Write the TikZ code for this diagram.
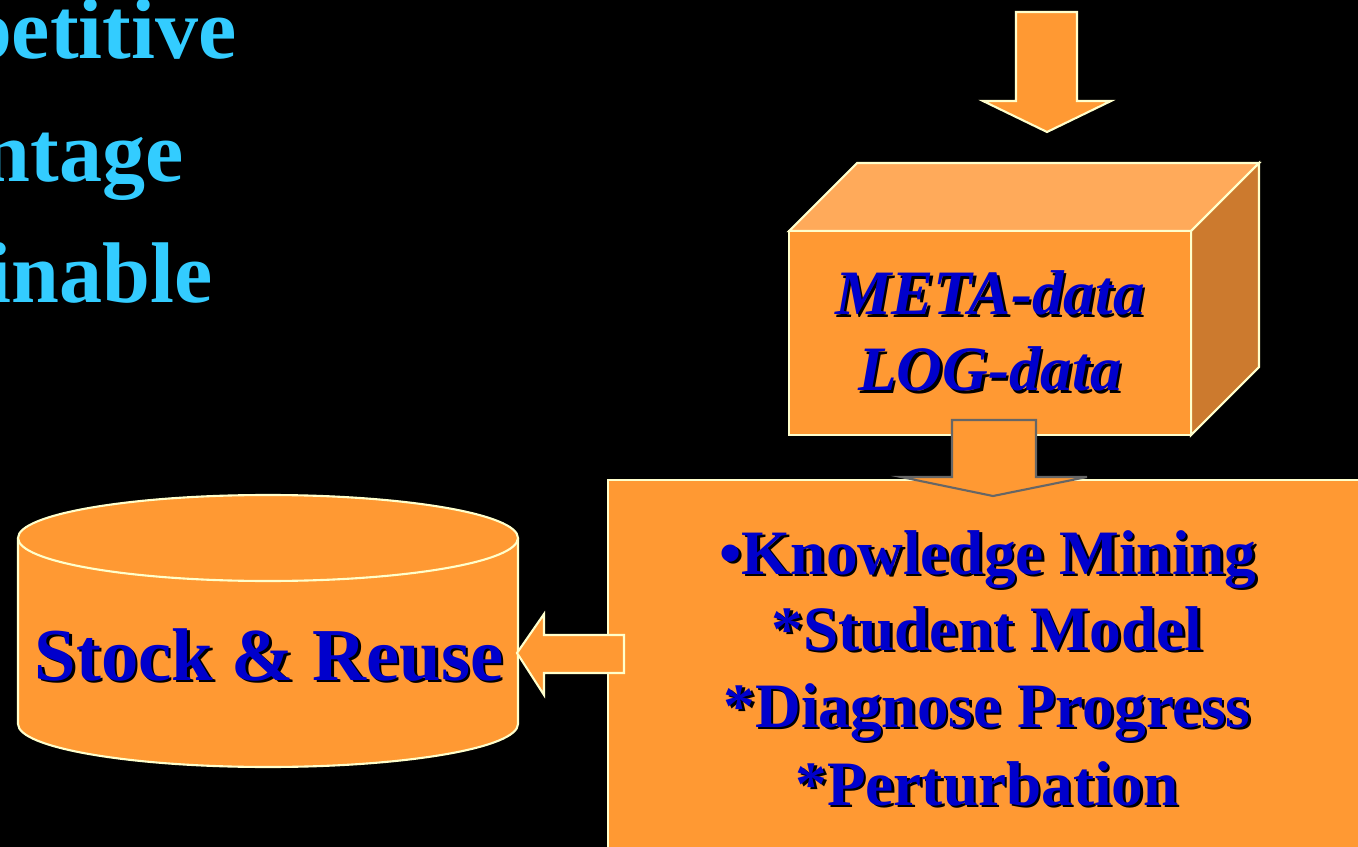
\documentclass[tikz,border=0pt]{standalone}
\usepackage{fontspec}
\setmainfont{Liberation Serif}
\usetikzlibrary{calc}

\definecolor{orangefill}{HTML}{FF9933}
\definecolor{orangetop}{HTML}{FFAA5A}
\definecolor{orangeside}{HTML}{CC7A2E}
\definecolor{paleline}{HTML}{FFFFCC}
\definecolor{dblue}{HTML}{0000CC}
\definecolor{skycyan}{HTML}{33CCFF}
\definecolor{arrowgray}{HTML}{666666}

\tikzset{
	shapeline/.style={draw=paleline, line width=1.2pt, fill=orangefill, line join=miter},
	slidetext/.style={text=skycyan, font=\fontsize{49}{49}\selectfont\bfseries, anchor=base east, inner sep=0pt},
	boxtext/.style={text=dblue, font=\fontsize{36}{36}\selectfont\bfseries\itshape, anchor=base, inner sep=0pt},
	listtext/.style={text=dblue, font=\fontsize{36}{36}\selectfont\bfseries, anchor=base, inner sep=0pt},
	stocktext/.style={text=dblue, font=\fontsize{42.5}{42.5}\selectfont\bfseries, anchor=base, inner sep=0pt},
}

% text with a black drop shadow: style, name, position, text
\newcommand{\castnode}[4]{%
	\node[#1,text=black] (#2s) at ($(#3)+(2.5,2.5)$) {#4};
	\node[#1] (#2) at (#3) {#4};}

\begin{document}
\begin{tikzpicture}[x=0.02cm, y=-0.02cm]
	\useasboundingbox (0,0) rectangle (1358,847);
	\fill[black] (0,0) rectangle (1358,847);
	\clip (0,0) rectangle (1358,847);
	% slide text cut at the left edge
	\node[slidetext] (comp) at (237,59) {petitive};
	\node[slidetext] (adv) at (184,182) {ntage};
	\node[slidetext] (sust) at (213,303) {inable};
	% arrow into the box
	\draw[shapeline] (1016,12) -- (1077,12) -- (1077,101) -- (1111,101) -- (1047,132)
		-- (983,101) -- (1016,101) -- cycle;
	% the box
	\draw[shapeline, fill=orangetop] (789,231) -- (857,163) -- (1259,163) -- (1191,231) -- cycle;
	\draw[shapeline, fill=orangeside] (1191,231) -- (1259,163) -- (1259,367) -- (1191,435) -- cycle;
	\draw[shapeline] (789,231) rectangle (1191,435);
	\castnode{boxtext}{meta}{990,315}{META-data}
	\castnode{boxtext}{log}{990,391}{LOG-data}
	% mining panel
	\draw[shapeline] (608,480) rectangle (1380,870);
	\draw[shapeline, draw=arrowgray] (952,420) -- (1036,420) -- (1036,477) -- (1087,477) -- (993,496)
		-- (901,477) -- (952,477) -- cycle;
	\castnode{listtext}{mine}{988,574}{•Knowledge Mining}
	\castnode{listtext}{model}{987,650}{*Student Model}
	\castnode{listtext}{diag}{987,727}{*Diagnose Progress}
	\castnode{listtext}{pert}{987,805}{*Perturbation}
	% store
	\draw[shapeline] (18,538) -- (18,724) arc (180:0:250 and 43) -- (518,538);
	\draw[shapeline] (268,538) ellipse (250 and 43);
	\castnode{stocktext}{stock}{269,680}{Stock \& Reuse}
	\draw[shapeline] (624,635) -- (624,673) -- (544,673) -- (544,695) -- (517,653)
		-- (544,614) -- (544,635) -- cycle;
\end{tikzpicture}
\end{document}
